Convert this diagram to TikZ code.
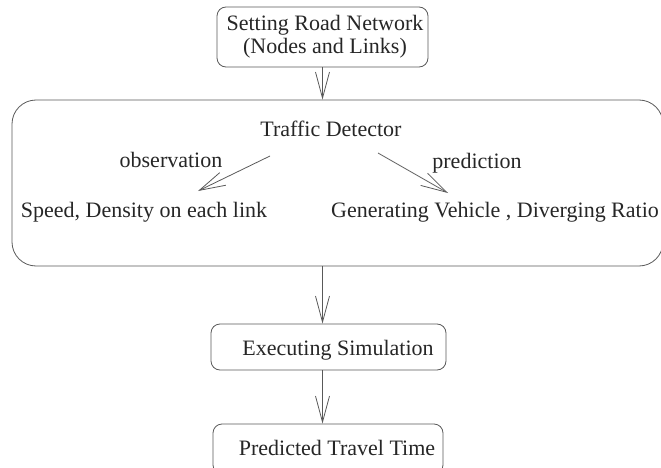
\documentclass[tikz,border=0pt]{standalone}
\usepackage{fontspec}
\setmainfont{Liberation Serif}
\usetikzlibrary{arrows.meta,positioning}

\begin{document}
\begin{tikzpicture}[x=1pt,y=-1pt,
  every node/.style={font=\fontsize{22}{23}\selectfont,text=black!85},
  stepbox/.style={draw=black!65,line width=0.8pt,rounded corners=9pt,inner sep=0pt},
  flow/.style={draw=black!65,line width=0.8pt,-{Straight Barb[length=26pt,width=14pt,line width=0.8pt]}}]
\useasboundingbox (0,0) rectangle (661,468);
\clip (0,0) rectangle (661,468);

%% road network
\node[stepbox,minimum width=211,minimum height=60] (road) at (322.5,37) {};
\node[anchor=base,align=center] (roadText) at (325,54) {Setting Road Network\\(Nodes and Links)};

%% detector block
\node[stepbox,rounded corners=24pt,minimum width=651,minimum height=166] (detect) at (337.5,183) {};
\node[anchor=base] (td) at (331,136) {Traffic Detector};
\node[anchor=base] (obs) at (171,167) {observation};
\node[anchor=base] (pred) at (477,168) {prediction};
\node[anchor=base] (speed) at (144,217) {Speed, Density on each link};
\node[anchor=base west,inner xsep=0pt] (gen) at (331,217) {Generating Vehicle , Diverging Ratio};
\coordinate (obsA) at (270,156);
\coordinate (obsB) at (198,191);
\coordinate (predA) at (378,153);
\coordinate (predB) at (448,193);
\draw[flow] (obsA) -- (obsB);
\draw[flow] (predA) -- (predB);

%% simulation and result
\node[stepbox,minimum width=235,minimum height=46] (exec) at (328.5,347) {};
\node[anchor=base] (execText) at (338,355) {Executing Simulation};
\node[stepbox,minimum width=230,minimum height=50] (result) at (328,449) {};
\node[anchor=base] (resultText) at (337,455) {Predicted Travel Time};

\draw[flow] (road) -- (road |- detect.north);
\draw[flow] (road |- detect.south) -- (road |- exec.north);
\draw[flow] (road |- exec.south) -- (road |- result.north);
\end{tikzpicture}
\end{document}
